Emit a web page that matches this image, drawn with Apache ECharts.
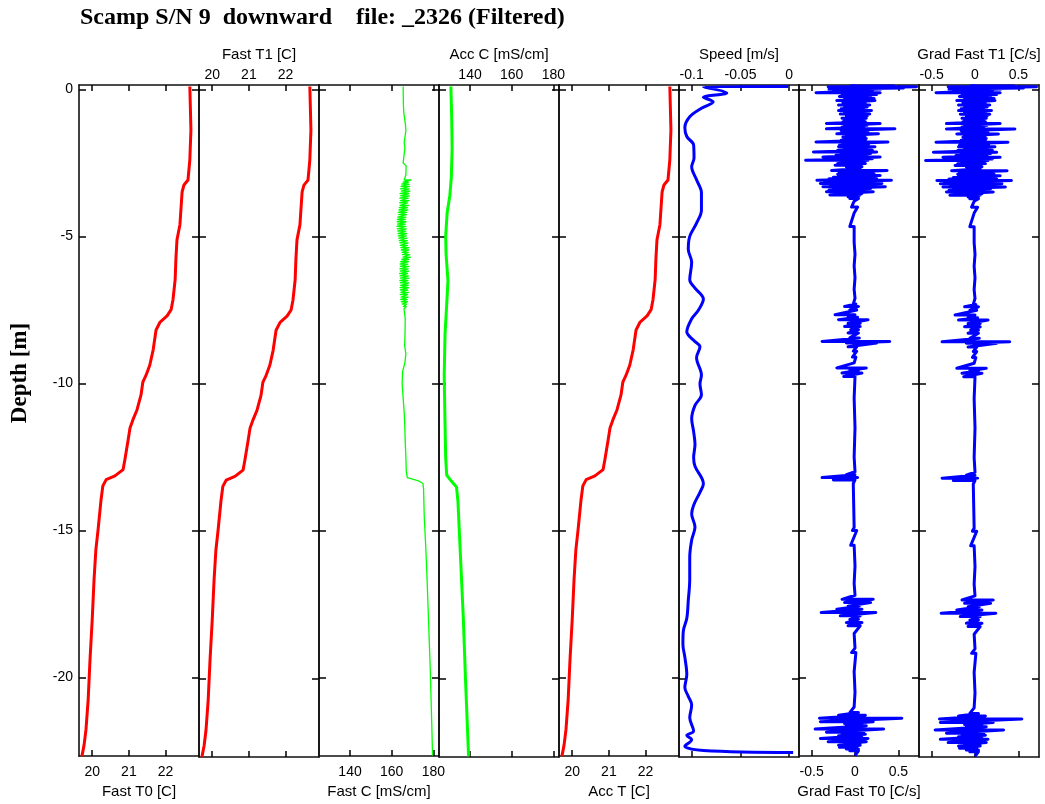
<!DOCTYPE html>
<html><head><meta charset="utf-8">
<script src="https://cdn.jsdelivr.net/npm/echarts@6.0.0/dist/echarts.min.js"></script>
<style>html,body{margin:0;padding:0;background:#fff}#c{width:1045px;height:804px}</style>
</head><body><div id="c"></div>
<script>
// ---------- text ----------
const chartTitle = 'Scamp S/N 9  downward    file: _2326 (Filtered)';
const depthLabel = 'Depth [m]';
const depthTicks = [0, -5, -10, -15, -20];
const depthMin = -22.67, depthMax = 0.15;

const panelNames = ['Fast T0 [C]', 'Fast T1 [C]', 'Fast C [mS/cm]', 'Acc C [mS/cm]', 'Acc T [C]', 'Speed [m/s]', 'Grad Fast T0 [C/s]', 'Grad Fast T1 [C/s]'];
const tempTicks = [20, 21, 22];
const condTicks = [140, 160, 180];
const speedTicks = [-0.1, -0.05, 0];
const gradTicks = [-0.5, 0, 0.5];

// ---------- data: profiles as [value, depth] ----------
const fastT0 = [[22.66,0.10],[22.69,-1.38],[22.66,-2.40],[22.61,-3.08],[22.50,-3.25],[22.45,-3.48],[22.39,-4.60],[22.31,-5.11],[22.28,-5.79],[22.26,-6.47],[22.20,-7.16],[22.15,-7.49],[22.04,-7.70],[21.85,-7.91],[21.74,-8.18],[21.66,-8.86],[21.57,-9.37],[21.47,-9.71],[21.38,-9.95],[21.33,-10.39],[21.22,-10.90],[21.11,-11.23],[21.03,-11.51],[20.98,-11.91],[20.89,-12.59],[20.84,-12.93],[20.62,-13.14],[20.38,-13.27],[20.29,-13.48],[20.24,-13.96],[20.16,-14.97],[20.10,-15.65],[20.05,-16.67],[20.00,-18.03],[19.94,-19.39],[19.89,-20.75],[19.83,-21.77],[19.78,-22.28],[19.72,-22.67]];
const fastT1 = [[22.66,0.10],[22.69,-1.38],[22.66,-2.40],[22.61,-3.08],[22.50,-3.25],[22.45,-3.48],[22.39,-4.60],[22.31,-5.11],[22.28,-5.79],[22.26,-6.47],[22.20,-7.16],[22.15,-7.49],[22.04,-7.70],[21.85,-7.91],[21.74,-8.18],[21.66,-8.86],[21.57,-9.37],[21.47,-9.71],[21.38,-9.95],[21.33,-10.39],[21.22,-10.90],[21.11,-11.23],[21.03,-11.51],[20.98,-11.91],[20.89,-12.59],[20.84,-12.93],[20.62,-13.14],[20.38,-13.27],[20.29,-13.48],[20.24,-13.96],[20.16,-14.97],[20.10,-15.65],[20.05,-16.67],[20.00,-18.03],[19.94,-19.39],[19.89,-20.75],[19.83,-21.77],[19.78,-22.28],[19.72,-22.67]];
const accT = [[22.66,0.10],[22.69,-1.38],[22.66,-2.40],[22.61,-3.08],[22.50,-3.25],[22.45,-3.48],[22.39,-4.60],[22.31,-5.11],[22.28,-5.79],[22.26,-6.47],[22.20,-7.16],[22.15,-7.49],[22.04,-7.70],[21.85,-7.91],[21.74,-8.18],[21.66,-8.86],[21.57,-9.37],[21.47,-9.71],[21.38,-9.95],[21.33,-10.39],[21.22,-10.90],[21.11,-11.23],[21.03,-11.51],[20.98,-11.91],[20.89,-12.59],[20.84,-12.93],[20.62,-13.14],[20.38,-13.27],[20.29,-13.48],[20.24,-13.96],[20.16,-14.97],[20.10,-15.65],[20.05,-16.67],[20.00,-18.03],[19.94,-19.39],[19.89,-20.75],[19.83,-21.77],[19.78,-22.28],[19.72,-22.67]];

const accC = [[130.8,0.1],[131.2,-1.0],[131.4,-2.0],[131.0,-3.0],[130.3,-3.6],[129.0,-4.2],[128.3,-5.0],[128.5,-5.6],[129.4,-6.5],[128.8,-7.3],[128.0,-8.3],[127.6,-9.7],[127.9,-11.0],[128.3,-12.5],[128.8,-13.1],[131.0,-13.3],[133.5,-13.5],[134.2,-14.0],[135.5,-16.0],[136.8,-18.0],[137.8,-20.0],[139.3,-22.65]];

const speed = [[-0.001,0.10],[-0.088,0.09],[-0.064,-0.12],[-0.088,-0.27],[-0.078,-0.42],[-0.090,-0.64],[-0.102,-0.93],[-0.107,-1.30],[-0.105,-1.60],[-0.098,-1.89],[-0.0976,-2.33],[-0.100,-2.63],[-0.095,-3.07],[-0.090,-3.51],[-0.090,-4.10],[-0.095,-4.54],[-0.102,-4.99],[-0.1035,-5.43],[-0.100,-5.87],[-0.102,-6.46],[-0.0966,-6.75],[-0.088,-7.12],[-0.093,-7.49],[-0.100,-7.79],[-0.105,-8.23],[-0.098,-8.52],[-0.0915,-8.74],[-0.095,-9.11],[-0.090,-9.70],[-0.0915,-10.0],[-0.090,-10.37],[-0.0966,-10.73],[-0.100,-11.18],[-0.098,-11.62],[-0.0966,-12.06],[-0.098,-12.50],[-0.0966,-12.80],[-0.088,-13.39],[-0.0915,-13.68],[-0.098,-14.12],[-0.100,-14.42],[-0.0966,-14.86],[-0.100,-15.30],[-0.102,-15.89],[-0.102,-16.63],[-0.1035,-17.36],[-0.105,-17.96],[-0.1086,-18.40],[-0.109,-18.84],[-0.107,-19.28],[-0.105,-19.87],[-0.107,-20.31],[-0.1035,-20.61],[-0.100,-20.90],[-0.102,-21.34],[-0.098,-21.79],[-0.105,-21.94],[-0.100,-22.08],[-0.107,-22.30],[-0.088,-22.45],[0.004,-22.52]];

// ---------- noisy traces as rows: [depth, low, high] (a single value when low == high) ----------
const fastCRows = [[0.1,165.5,165.5],[-0.5,165.6,165.6],[-0.8,165.8,165.8],[-1.2,166.6,166.6],[-1.4,166.8,166.8],[-1.8,166.0,166.0],[-2.0,166.3,166.3],[-2.5,165.5,165.5],[-2.6,166.9,166.9],[-2.9,166.8,166.8],
 [-3.08,166.0,169.3],[-3.15,165.5,168.0],[-3.22,164.8,168.3],[-3.30,164.5,168.6],[-3.38,164.2,168.4],[-3.46,164.6,168.7],[-3.54,164.0,168.2],[-3.62,164.3,168.5],[-3.70,163.9,167.9],[-3.78,164.2,168.3],[-3.86,163.8,167.6],[-3.94,164.0,168.0],[-4.02,163.6,167.5],[-4.10,163.5,167.8],[-4.18,163.2,167.2],[-4.26,163.4,167.0],[-4.34,162.9,166.8],[-4.42,162.7,166.6],[-4.50,162.6,166.9],[-4.58,162.8,166.5],[-4.66,162.5,166.8],[-4.74,162.7,167.0],[-4.82,162.9,166.7],[-4.90,163.0,167.1],[-4.98,163.2,167.0],[-5.06,163.4,167.3],[-5.14,163.6,167.5],[-5.22,163.9,167.8],[-5.30,164.1,167.6],[-5.38,164.4,168.1],[-5.46,164.6,168.3],[-5.54,165.0,168.0],[-5.62,165.2,168.6],[-5.70,165.4,169.0],[-5.78,164.8,168.3],[-5.86,164.3,168.0],[-5.94,164.0,167.7],[-6.02,164.2,168.1],[-6.10,163.9,167.9],[-6.18,164.1,168.2],[-6.26,163.8,167.6],[-6.34,164.0,168.0],[-6.42,164.2,168.3],[-6.50,163.9,167.8],[-6.58,164.1,168.2],[-6.66,164.3,167.9],[-6.74,164.0,168.1],[-6.82,164.2,167.7],[-6.90,164.4,168.0],[-6.98,164.1,167.6],[-7.06,164.5,167.9],[-7.14,164.3,167.4],[-7.22,164.6,167.6],[-7.30,165.0,167.2],[-7.38,165.6,167.0],[-7.46,165.9,166.8],
 [-7.8,166.5,166.5],[-8.3,166.4,166.4],[-8.7,166.2,166.2],[-9.0,166.8,166.8],[-9.3,166.3,166.3],[-9.6,165.2,165.2],[-10.0,165.0,165.0],[-10.5,165.5,165.5],[-11.0,166.0,166.0],[-11.5,166.3,166.3],[-12.0,166.5,166.5],[-12.5,166.8,166.8],[-13.0,167.0,167.0],[-13.2,167.5,167.5],[-13.3,172.5,172.5],[-13.4,175.0,175.0],[-13.6,175.3,175.3],[-14.5,175.6,175.6],[-15.5,176.3,176.3],[-16.5,176.9,176.9],[-17.5,177.4,177.4],[-18.5,177.9,177.9],[-19.5,178.4,178.4],[-20.5,178.8,178.8],[-21.5,179.2,179.2],[-22.65,179.6,179.6]];

const gradT0Rows = [[0.13,0.0,0.0],[0.12,-0.05,0.45],[0.09,-0.31,0.71],[0.05,-0.20,0.56],[0.01,-0.30,0.30],[-0.04,-0.25,0.20],[-0.11,-0.45,0.29],[-0.17,-0.15,0.25],[-0.24,-0.18,0.18],[-0.31,-0.12,0.22],[-0.38,-0.21,0.23],[-0.45,-0.14,0.12],[-0.53,-0.19,0.17],[-0.60,-0.12,0.14],[-0.66,-0.16,0.10],[-0.72,-0.19,0.19],[-0.78,-0.12,0.12],[-0.84,-0.17,0.17],[-0.90,-0.10,0.14],[-0.98,-0.15,0.13],[-1.05,-0.12,0.10],[-1.10,-0.14,0.12],[-1.16,-0.33,0.29],[-1.22,-0.12,0.14],[-1.28,-0.15,0.10],[-1.34,-0.33,0.46],[-1.40,-0.16,0.12],[-1.46,-0.12,0.15],[-1.51,-0.21,0.27],[-1.57,-0.10,0.12],[-1.62,-0.14,0.08],[-1.67,-0.10,0.13],[-1.73,-0.16,0.12],[-1.79,-0.45,0.38],[-1.85,-0.14,0.16],[-1.90,-0.18,0.12],[-1.95,-0.19,0.23],[-2.01,-0.12,0.16],[-2.07,-0.20,0.20],[-2.13,-0.48,0.25],[-2.18,-0.16,0.18],[-2.24,-0.22,0.14],[-2.30,-0.37,0.29],[-2.36,-0.15,0.20],[-2.41,-0.57,0.15],[-2.47,-0.12,0.10],[-2.52,-0.20,0.12],[-2.58,-0.23,0.06],[-2.63,-0.10,0.08],[-2.69,-0.06,0.06],[-2.76,-0.27,0.37],[-2.82,-0.18,0.15],[-2.88,-0.20,0.22],[-2.93,-0.19,0.29],[-2.99,-0.25,0.20],[-3.04,-0.30,0.25],[-3.09,-0.44,0.42],[-3.15,-0.35,0.20],[-3.20,-0.40,0.31],[-3.26,-0.28,0.25],[-3.31,-0.37,0.35],[-3.37,-0.25,0.18],[-3.42,-0.30,0.15],[-3.48,-0.33,0.21],[-3.54,-0.20,0.08],[-3.59,-0.29,0.06],[-3.65,-0.08,0.04],[-3.71,-0.06,0.04],
 [-3.8,-0.01,0.01],[-4.0,-0.04,0.03],[-4.2,-0.01,0.01],[-4.66,-0.06,-0.01],[-5.2,-0.01,-0.01],[-5.6,0.0,0.0],[-6.0,-0.01,-0.01],[-6.4,0.0,0.0],[-6.8,-0.01,-0.01],[-7.1,0.0,0.0],[-7.3,-0.02,0.01],
 [-7.38,-0.12,0.04],[-7.50,-0.06,0.02],[-7.66,-0.23,0.0],[-7.75,-0.08,0.03],[-7.83,-0.19,0.15],[-7.95,-0.08,0.06],[-8.06,-0.12,0.06],[-8.17,-0.05,0.04],[-8.28,-0.08,0.04],[-8.45,-0.06,0.05],[-8.57,-0.38,0.40],[-8.62,-0.10,0.25],[-8.75,-0.08,0.02],[-8.9,-0.02,0.02],[-9.1,-0.03,0.01],[-9.3,-0.01,0.01],[-9.47,-0.21,0.13],[-9.55,-0.06,0.04],[-9.64,-0.15,0.08],[-9.76,-0.13,0.0],
 [-10.5,-0.01,-0.01],[-11.5,0.0,0.0],[-12.5,-0.01,-0.01],[-13.0,0.0,0.0],[-13.1,-0.1,0.0],[-13.2,-0.38,0.03],[-13.28,-0.25,0.0],[-13.4,-0.02,-0.02],
 [-14.9,-0.01,-0.01],[-15.0,-0.03,0.02],[-15.5,-0.05,-0.01],[-16.2,0.0,0.0],[-16.8,-0.01,-0.01],[-17.2,0.0,0.0],[-17.34,-0.15,0.21],[-17.45,-0.12,0.18],[-17.57,-0.08,0.05],[-17.68,-0.21,0.08],[-17.79,-0.39,0.24],[-17.90,-0.17,0.06],[-18.02,-0.06,0.04],[-18.13,-0.10,0.08],[-18.24,-0.08,0.06],[-18.5,-0.01,-0.01],[-19.0,0.0,0.0],[-19.15,-0.04,0.01],[-19.8,-0.01,-0.01],[-20.5,0.0,0.0],[-21.0,-0.01,-0.01],
 [-21.19,-0.06,0.04],[-21.28,-0.19,0.12],[-21.38,-0.41,0.54],[-21.50,-0.40,0.21],[-21.57,-0.12,0.08],[-21.64,-0.10,0.13],[-21.75,-0.46,0.33],[-21.86,-0.33,0.10],[-21.93,-0.15,0.12],[-21.98,-0.19,0.08],[-22.07,-0.40,0.15],[-22.13,-0.14,0.10],[-22.18,-0.31,0.13],[-22.24,-0.12,0.06],[-22.30,-0.19,0.06],[-22.37,-0.18,0.02],[-22.43,-0.10,0.04],[-22.49,-0.06,0.04],[-22.65,0.0,0.0]];
// Grad Fast T1 trace is visually identical to Grad Fast T0 in the reference
const gradT1Rows = gradT0Rows;

// rows -> polyline points [value, depth]
function rowsToLine(rows) {
  const out = [];
  rows.forEach(r => { out.push([r[1], r[0]]); if (r[2] !== r[1]) out.push([r[2], r[0]]); });
  return out;
}

// ---------- panels ----------
const panels = [
  { data: fastT0, pos: 'bottom', range: [19.64, 22.91], ticks: tempTicks, color: '#ff0000', lw: 3 },
  { data: fastT1, pos: 'top', range: [19.64, 22.91], ticks: tempTicks, color: '#ff0000', lw: 3 },
  { data: rowsToLine(fastCRows), pos: 'bottom', range: [125.1, 182.7], ticks: condTicks, color: '#00ff00', lw: 1.3 },
  { data: accC, pos: 'top', range: [125.1, 182.7], ticks: condTicks, color: '#00ff00', lw: 3 },
  { data: accT, pos: 'bottom', range: [19.64, 22.91], ticks: tempTicks, color: '#ff0000', lw: 3 },
  { data: speed, pos: 'top', range: [-0.113, 0.010], ticks: speedTicks, color: '#0000ff', lw: 3, smooth: 0.35 },
  { data: rowsToLine(gradT0Rows), pos: 'bottom', range: [-0.646, 0.738], ticks: gradTicks, color: '#0000ff', lw: 3 },
  { data: rowsToLine(gradT1Rows), pos: 'top', range: [-0.646, 0.738], ticks: gradTicks, color: '#0000ff', lw: 3 }
];

const FONT = 'Liberation Sans';
const lineSt = { color: '#111', width: 1.6 };
const grids = [], xAxes = [], yAxes = [], series = [];
panels.forEach((p, i) => {
  grids.push({ left: 79 + 120 * i, top: 85, width: 120, height: 672, containLabel: false });
  const other = p.pos === 'top' ? 'bottom' : 'top';
  const tick = { show: true, inside: true, length: 6, customValues: p.ticks, lineStyle: { color: '#000', width: 1.5 } };
  xAxes.push({
    type: 'value', gridIndex: i, position: p.pos, min: p.range[0], max: p.range[1],
    name: panelNames[i], nameLocation: 'middle', nameGap: p.pos === 'top' ? 23 : 25,
    nameTextStyle: { fontFamily: FONT, fontSize: 15, color: '#000' },
    axisLine: { show: true, onZero: false, lineStyle: lineSt },
    axisTick: tick,
    axisLabel: { show: true, customValues: p.ticks, fontFamily: FONT, fontSize: 14, color: '#000', margin: p.pos === 'top' ? 3 : 9 },
    splitLine: { show: false }
  });
  xAxes.push({
    type: 'value', gridIndex: i, position: other, min: p.range[0], max: p.range[1],
    axisLine: { show: true, onZero: false, lineStyle: lineSt },
    axisTick: tick, axisLabel: { show: false }, splitLine: { show: false }
  });
  const ytick = { show: true, inside: true, length: 7, customValues: depthTicks, lineStyle: { color: '#000', width: 1.5 } };
  yAxes.push({
    type: 'value', gridIndex: i, position: 'left', min: depthMin, max: depthMax,
    axisLine: { show: true, onZero: false, lineStyle: lineSt },
    axisTick: ytick,
    axisLabel: { show: i === 0, customValues: depthTicks, fontFamily: FONT, fontSize: 14, color: '#000', margin: 6 },
    splitLine: { show: false }
  });
  yAxes.push({
    type: 'value', gridIndex: i, position: 'right', min: depthMin, max: depthMax,
    axisLine: { show: true, onZero: false, lineStyle: lineSt },
    axisTick: ytick, axisLabel: { show: false }, splitLine: { show: false }
  });
  series.push({
    type: 'line', xAxisIndex: 2 * i, yAxisIndex: 2 * i, data: p.data,
    showSymbol: false, symbol: 'none', clip: true, animation: false, smooth: p.smooth || false,
    lineStyle: { color: p.color, width: p.lw, join: 'round' }
  });
});

const chart = echarts.init(document.getElementById('c'), null, { renderer: 'canvas' });
chart.setOption({
  animation: false,
  backgroundColor: '#fff',
  title: { text: chartTitle, left: 80, top: 6, padding: 0, textStyle: { fontFamily: 'Liberation Serif', fontWeight: 'bold', fontSize: 24, color: '#000' } },
  graphic: [{ type: 'text', x: 20, y: 373, rotation: Math.PI / 2,
    style: { text: depthLabel, font: 'bold 23px "Liberation Serif"', align: 'center', verticalAlign: 'middle', fill: '#000' } }],
  grid: grids, xAxis: xAxes, yAxis: yAxes, series: series
});
</script></body></html>
